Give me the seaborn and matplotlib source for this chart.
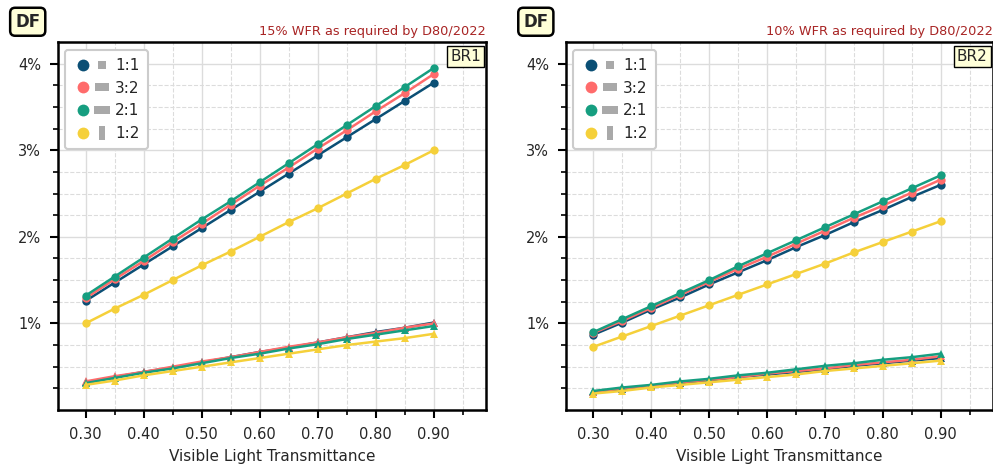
import numpy as np
import matplotlib
matplotlib.use("Agg")
import matplotlib.pyplot as plt
import pandas as pd
import seaborn as sns
from matplotlib.lines import Line2D
from matplotlib.legend_handler import HandlerTuple
from matplotlib.ticker import MultipleLocator, FixedLocator, PercentFormatter

# visible light transmittance values
vlt = [0.30, 0.35, 0.40, 0.45, 0.50, 0.55, 0.60, 0.65, 0.70, 0.75, 0.80, 0.85, 0.90]
ratios = ["1:1", "3:2", "2:1", "1:2"]

# BR1, upper group (circles)
br1_hi_11 = [1.26, 1.47, 1.68, 1.89, 2.10, 2.31, 2.52, 2.73, 2.94, 3.15, 3.36, 3.57, 3.78]
br1_hi_32 = [1.29, 1.51, 1.72, 1.94, 2.15, 2.37, 2.59, 2.80, 3.02, 3.23, 3.45, 3.66, 3.88]
br1_hi_21 = [1.32, 1.54, 1.76, 1.98, 2.20, 2.41, 2.63, 2.85, 3.07, 3.29, 3.51, 3.73, 3.95]
br1_hi_12 = [1.00, 1.17, 1.33, 1.50, 1.67, 1.83, 2.00, 2.17, 2.33, 2.50, 2.67, 2.83, 3.00]
# BR1, lower group (triangles)
br1_lo_11 = [0.32, 0.38, 0.44, 0.49, 0.55, 0.61, 0.67, 0.72, 0.78, 0.84, 0.90, 0.95, 1.01]
br1_lo_32 = [0.33, 0.39, 0.44, 0.50, 0.56, 0.61, 0.67, 0.73, 0.78, 0.84, 0.89, 0.95, 1.00]
br1_lo_21 = [0.31, 0.37, 0.43, 0.48, 0.54, 0.60, 0.65, 0.71, 0.76, 0.82, 0.87, 0.92, 0.97]
br1_lo_12 = [0.29, 0.34, 0.40, 0.45, 0.50, 0.55, 0.60, 0.65, 0.70, 0.75, 0.79, 0.83, 0.88]

# BR2, upper group (circles)
br2_hi_11 = [0.87, 1.01, 1.16, 1.30, 1.45, 1.59, 1.73, 1.88, 2.02, 2.17, 2.31, 2.46, 2.60]
br2_hi_32 = [0.89, 1.03, 1.18, 1.33, 1.48, 1.63, 1.77, 1.92, 2.07, 2.22, 2.36, 2.51, 2.66]
br2_hi_21 = [0.90, 1.05, 1.20, 1.35, 1.50, 1.66, 1.81, 1.96, 2.11, 2.26, 2.41, 2.56, 2.71]
br2_hi_12 = [0.73, 0.85, 0.97, 1.09, 1.21, 1.33, 1.45, 1.57, 1.69, 1.82, 1.94, 2.06, 2.18]
# BR2, lower group (triangles)
br2_lo_11 = [0.21, 0.24, 0.28, 0.31, 0.34, 0.38, 0.41, 0.44, 0.47, 0.51, 0.54, 0.57, 0.60]
br2_lo_32 = [0.21, 0.25, 0.28, 0.32, 0.35, 0.38, 0.42, 0.45, 0.48, 0.52, 0.55, 0.58, 0.62]
br2_lo_21 = [0.22, 0.26, 0.29, 0.33, 0.36, 0.40, 0.43, 0.47, 0.51, 0.54, 0.58, 0.61, 0.65]
br2_lo_12 = [0.19, 0.22, 0.26, 0.29, 0.32, 0.35, 0.38, 0.41, 0.45, 0.48, 0.51, 0.54, 0.57]

panels = [
    ("BR1", "15% WFR as required by D80/2022",
     [br1_hi_11, br1_hi_32, br1_hi_21, br1_hi_12],
     [br1_lo_11, br1_lo_32, br1_lo_21, br1_lo_12]),
    ("BR2", "10% WFR as required by D80/2022",
     [br2_hi_11, br2_hi_32, br2_hi_21, br2_hi_12],
     [br2_lo_11, br2_lo_32, br2_lo_21, br2_lo_12]),
]

colors = ["#0b4f75", "#ff6b6b", "#169e80", "#f5d03a"]
# legend rectangles: (half width, half height, marker size)
rect_shape = {"1:1": (1, 1, 6.2), "3:2": (1.5, 1, 9.4), "2:1": (2, 1, 11.5), "1:2": (1, 2, 9.4)}

sns.set_theme(style="ticks")
plt.rcParams["font.family"] = ["DejaVu Sans"]

fig = plt.figure(figsize=(9.93, 4.73), dpi=100)
ax1 = fig.add_axes([0.0581, 0.1332, 0.4313, 0.778])
ax2 = fig.add_axes([0.5697, 0.1332, 0.4300, 0.778])

for ax, (name, subtitle, hi, lo) in zip([ax1, ax2], panels):
    for i in range(4):
        sns.lineplot(x=vlt, y=hi[i], ax=ax, color=colors[i], marker="o", markersize=6,
                     markeredgewidth=0, linewidth=1.8, legend=False)
        sns.lineplot(x=vlt, y=lo[i], ax=ax, color=colors[i], marker="^", markersize=6,
                     markeredgewidth=0, linewidth=1.8, legend=False)

    ax.set_xlim(0.252, 0.99)
    ax.set_ylim(0.0, 4.25)
    ax.xaxis.set_major_locator(MultipleLocator(0.1))
    ax.xaxis.set_minor_locator(MultipleLocator(0.05))
    ax.xaxis.set_major_formatter(matplotlib.ticker.FormatStrFormatter("%.2f"))
    ax.yaxis.set_major_locator(FixedLocator([1, 2, 3, 4]))
    ax.yaxis.set_minor_locator(FixedLocator([0.25, 0.5, 0.75, 1.25, 1.5, 1.75, 2.25, 2.5, 2.75,
                                             3.25, 3.5, 3.75]))
    ax.yaxis.set_major_formatter(PercentFormatter(decimals=0))

    ax.grid(which="major", color="#dcdcdc", linewidth=1.0, linestyle="-")
    ax.grid(which="minor", color="#dcdcdc", linewidth=0.8, linestyle="--")
    ax.set_axisbelow(True)
    for sp in ax.spines.values():
        sp.set_color("black")
        sp.set_linewidth(1.8)
    ax.tick_params(which="major", length=6, width=1.5, labelsize=10.5, color="black", pad=6)
    ax.tick_params(which="minor", length=3.5, width=1.2, color="black")

    ax.set_xlabel("Visible Light Transmittance", fontsize=11, labelpad=5)
    ax.set_ylabel("")
    ax.set_title(subtitle, loc="right", fontsize=9.3, color="#a82424", pad=5)

    ax.text(-0.07, 1.055, "DF", transform=ax.transAxes, ha="center", va="center",
            fontsize=12, fontweight="bold",
            bbox=dict(boxstyle="round,pad=0.3", facecolor="#ffffd9", edgecolor="black", linewidth=1.8))
    ax.text(0.988, 0.982, name, transform=ax.transAxes, ha="right", va="top", fontsize=11,
            bbox=dict(boxstyle="square,pad=0.2", facecolor="#ffffd9", edgecolor="black", linewidth=1.0))

    handles = []
    for r, c in zip(ratios, colors):
        hw, hh, ms = rect_shape[r]
        verts = [(-hw, -hh), (hw, -hh), (hw, hh), (-hw, hh), (-hw, -hh)]
        dot = Line2D([], [], linestyle="none", marker="o", markersize=8.5, color=c, markeredgewidth=0)
        box = Line2D([], [], linestyle="none", marker=verts, markersize=ms, color="#a9a9a9",
                     markeredgewidth=0)
        handles.append((dot, box))
    leg = ax.legend(handles, ratios, loc="upper left", fontsize=11,
                    handler_map={tuple: HandlerTuple(ndivide=None, pad=0.1)},
                    handlelength=2.4, handletextpad=0.3, labelspacing=0.5,
                    borderpad=0.55, fancybox=True, framealpha=1.0)
    leg.get_frame().set_edgecolor("#cccccc")
    leg.get_frame().set_linewidth(1.5)

fig.savefig("out.png", dpi=100)
